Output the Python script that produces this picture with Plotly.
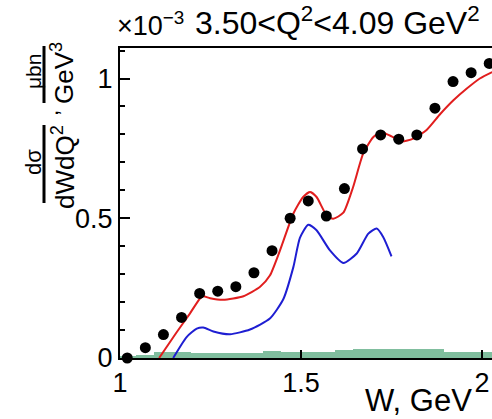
import plotly.graph_objects as go

# Data points (W in GeV, cross section in units of 1e-3 ubn/GeV^3)
w_data = [1.02, 1.07, 1.12, 1.17, 1.22, 1.27, 1.32, 1.37, 1.42, 1.47, 1.52,
          1.57, 1.62, 1.67, 1.72, 1.77, 1.82, 1.87, 1.92, 1.97, 2.02]
xs_data = [0.0, 0.037, 0.084, 0.145, 0.231, 0.239, 0.255, 0.305, 0.384, 0.500,
           0.562, 0.508, 0.606, 0.748, 0.798, 0.783, 0.798, 0.894, 0.989, 1.021, 1.054]

# Red curve (full model)
w_red = [1.108, 1.157, 1.193, 1.221, 1.230, 1.249, 1.285, 1.341, 1.387, 1.414,
         1.442, 1.479, 1.506, 1.525, 1.543, 1.571, 1.589, 1.617, 1.644, 1.672,
         1.700, 1.723, 1.750, 1.778, 1.810, 1.847, 1.884, 1.921, 1.958, 1.994, 2.028]
xs_red = [0.0, 0.093, 0.159, 0.213, 0.221, 0.214, 0.208, 0.221, 0.255, 0.295,
          0.385, 0.517, 0.576, 0.594, 0.576, 0.510, 0.498, 0.520, 0.612, 0.732,
          0.791, 0.808, 0.793, 0.775, 0.785, 0.816, 0.872, 0.922, 0.964, 1.000, 1.023]

# Blue curve (resonant part)
w_blue = [1.147, 1.184, 1.212, 1.230, 1.258, 1.304, 1.359, 1.414, 1.451, 1.479,
          1.497, 1.520, 1.543, 1.580, 1.617, 1.654, 1.686, 1.709, 1.727, 1.750]
xs_blue = [0.0, 0.075, 0.105, 0.109, 0.095, 0.085, 0.102, 0.141, 0.210, 0.326,
           0.430, 0.477, 0.457, 0.385, 0.340, 0.374, 0.445, 0.463, 0.433, 0.364]

# Green histogram (systematic uncertainties)
w_hist = w_data
xs_hist = [0.008, 0.01, 0.02, 0.02, 0.018, 0.018, 0.018, 0.018, 0.024, 0.022, 0.022,
           0.022, 0.03, 0.032, 0.034, 0.034, 0.032, 0.032, 0.022, 0.02, 0.02]

FONT = "Liberation Sans, Arial, sans-serif"
W, H = 492, 419
L, R, T, B = 120, 0, 48, 61
pw, ph = W - L - R, H - T - B

def px(x):
    return (x - L) / pw

def py(y):
    return (H - B - y) / ph

fig = go.Figure()
fig.add_trace(go.Bar(x=w_hist, y=xs_hist, width=0.05, marker=dict(color="rgb(128,190,158)", line=dict(width=0)),
                     hoverinfo="skip"))
fig.add_trace(go.Scatter(x=w_blue, y=xs_blue, mode="lines", line=dict(color="rgb(30,30,210)", width=2, shape="spline", smoothing=0.6)))
fig.add_trace(go.Scatter(x=w_red, y=xs_red, mode="lines", line=dict(color="rgb(225,30,30)", width=2, shape="spline", smoothing=0.6)))
fig.add_trace(go.Scatter(x=w_data, y=xs_data, mode="markers", marker=dict(color="black", size=11), cliponaxis=False))

fig.update_layout(
    width=W, height=H, margin=dict(l=L, r=R, t=T, b=B),
    paper_bgcolor="white", plot_bgcolor="white", showlegend=False,
    font=dict(family=FONT, color="black"),
    bargap=0,
)
fig.update_xaxes(range=[1, 1 + pw / 362], showgrid=False, zeroline=False,
                 showline=True, linecolor="black", linewidth=2, mirror=True,
                 ticks="inside", ticklen=8, tickwidth=1.5, tickcolor="black",
                 tickvals=[1, 1.5, 2], ticktext=["1", "1.5", "2"],
                 tickfont=dict(size=27, family=FONT, color="black"))
fig.update_yaxes(range=[0, ph / 279.5], showgrid=False, zeroline=False,
                 showline=True, linecolor="black", linewidth=2,
                 ticks="inside", ticklen=10, tickwidth=1.5, tickcolor="black",
                 tickvals=[0, 0.5, 1], ticktext=["0", "0.5", "1"],
                 minor=dict(ticks="inside", ticklen=5, tickwidth=1.5, dtick=0.1, tickcolor="black"),
                 tickfont=dict(size=27, family=FONT, color="black"))

ann = []
# title
ann.append(dict(text="×10<sup>−3</sup>", x=px(115), y=py(43), xanchor="left", yanchor="bottom",
                font=dict(size=27)))
ann.append(dict(text="3.50&lt;Q<sup>2</sup>&lt;4.09 GeV<sup>2</sup>", x=px(193), y=py(43), xanchor="left", yanchor="bottom",
                font=dict(size=32)))
# x title
ann.append(dict(text="W, GeV", x=px(474), y=py(420), xanchor="right", yanchor="bottom", font=dict(size=31)))
# y title pieces (rotated)
ann.append(dict(text="dσ", x=px(33), y=py(162), xanchor="center", yanchor="middle", textangle=-90, font=dict(size=22)))
ann.append(dict(text="dWdQ<sup>2</sup>", x=px(63), y=py(167), xanchor="center", yanchor="middle", textangle=-90, font=dict(size=26)))
ann.append(dict(text=",", x=px(50), y=py(113), xanchor="center", yanchor="middle", textangle=-90, font=dict(size=22)))
ann.append(dict(text="μbn", x=px(33), y=py(72), xanchor="center", yanchor="middle", textangle=-90, font=dict(size=21)))
ann.append(dict(text="GeV<sup>3</sup>", x=px(62), y=py(73), xanchor="center", yanchor="middle", textangle=-90, font=dict(size=26)))
for a in ann:
    a.update(xref="paper", yref="paper", showarrow=False)
fig.update_layout(annotations=ann)

fig.update_layout(shapes=[
    dict(type="line", xref="paper", yref="paper", x0=px(44), x1=px(44), y0=py(125), y1=py(203),
         line=dict(color="black", width=3)),
    dict(type="line", xref="paper", yref="paper", x0=px(44), x1=px(44), y0=py(46), y1=py(103),
         line=dict(color="black", width=3)),
])

fig.write_html("out.html")
